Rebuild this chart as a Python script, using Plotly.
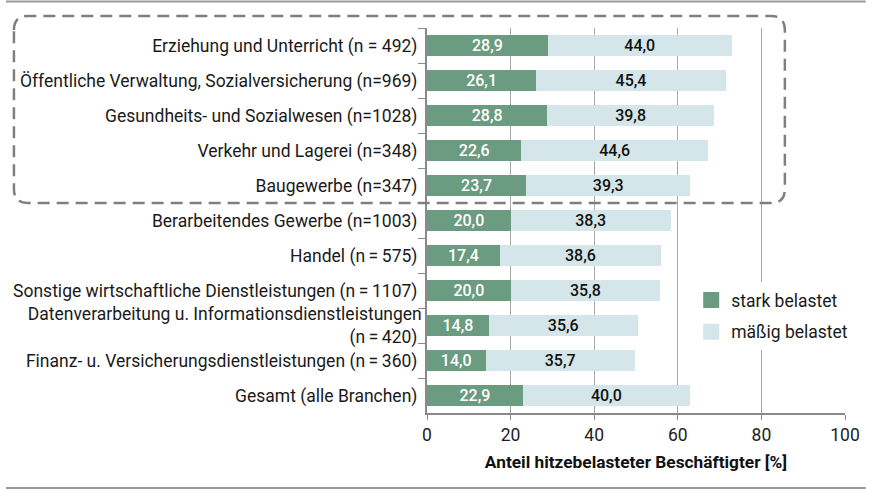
import plotly.graph_objects as go

categories = [
    "Erziehung und Unterricht (n = 492)",
    "Öffentliche Verwaltung, Sozialversicherung (n=969)",
    "Gesundheits- und Sozialwesen (n=1028)",
    "Verkehr und Lagerei (n=348)",
    "Baugewerbe (n=347)",
    "Berarbeitendes Gewerbe (n=1003)",
    "Handel (n\u2009=\u2009575)",
    "Sonstige wirtschaftliche Dienstleistungen (n\u2009=\u20091107)",
    "Datenverarbeitung u. Informationsdienstleistungen<br>(n\u2009=\u2009420)",
    "Finanz- u. Versicherungsdienstleistungen (n\u2009=\u2009360)",
    "Gesamt (alle Branchen)",
]
stark = [28.9, 26.1, 28.8, 22.6, 23.7, 20.0, 17.4, 20.0, 14.8, 14.0, 22.9]
maessig = [44.0, 45.4, 39.8, 44.6, 39.3, 38.3, 38.6, 35.8, 35.6, 35.7, 40.0]
x_ticks = [0, 20, 40, 60, 80, 100]
series_names = ["stark belastet", "mäßig belastet"]

FONT = "Roboto, sans-serif"
DARK = "#6b9b80"
LIGHT = "#d4e6e9"

def fmt(v):
    return f"{v:.1f}".replace(".", ",")

fig = go.Figure()
for vals, name, col, tcol in [(stark, series_names[0], DARK, "white"),
                              (maessig, series_names[1], LIGHT, "#111111")]:
    fig.add_trace(go.Bar(
        y=categories, x=vals, orientation="h", name=name, showlegend=False,
        marker=dict(color=col, line=dict(width=0)),
        text=[fmt(v) for v in vals], textposition="inside", insidetextanchor="middle",
        textangle=0, constraintext="none",
        textfont=dict(color=tcol, size=16, family=FONT, weight=500),
        hoverinfo="skip",
    ))
# legend entries with larger square symbols
for i, (name, col) in enumerate([(series_names[0], DARK), (series_names[1], LIGHT)]):
    fig.add_trace(go.Scatter(
        x=[None], y=[None], mode="markers", name=name, legendgroup=f"g{i}",
        marker=dict(symbol="square", size=17, color=col), hoverinfo="skip",
    ))

# pixel -> paper helpers (plot area: x 427..851, y 28..413)
L, R, T, B = 427, 851, 28, 413
def px(x):
    return (x - L) / (R - L)
def py(y):
    return (B - y) / (B - T)

bl, br, bt, bb, r = 8, 790, 16, 203, 14
path = (
    f"M {px(bl)},{py(bt + r)} Q {px(bl)},{py(bt)} {px(bl + r)},{py(bt)} "
    f"L {px(br - r)},{py(bt)} Q {px(br)},{py(bt)} {px(br)},{py(bt + r)} "
    f"L {px(br)},{py(bb - r)} Q {px(br)},{py(bb)} {px(br - r)},{py(bb)} "
    f"L {px(bl + r)},{py(bb)} Q {px(bl)},{py(bb)} {px(bl)},{py(bb - r)} Z"
)
shapes = [
    dict(type="path", xref="paper", yref="paper", path=path,
         line=dict(color="#7f7f7f", width=2.5, dash="12px,7px"), layer="above"),
    dict(type="line", xref="paper", yref="paper", x0=px(0), x1=px(872), y0=py(1.5), y1=py(1.5),
         line=dict(color="#9a9a9a", width=2)),
    dict(type="line", xref="paper", yref="paper", x0=px(0), x1=px(872), y0=py(488), y1=py(488),
         line=dict(color="#9a9a9a", width=2)),
]

fig.update_layout(
    barmode="stack", bargap=0.38,
    width=872, height=490,
    margin=dict(l=L, r=872 - R, t=T, b=490 - B, pad=0),
    paper_bgcolor="white", plot_bgcolor="white",
    font=dict(family=FONT, size=17.5, color="#1a1a1a"),
    showlegend=True,
    legend=dict(x=px(695), y=py(282), xanchor="left", yanchor="top",
                bgcolor="white", font=dict(size=17.5, family=FONT, color="#1a1a1a"),
                traceorder="grouped", tracegroupgap=6, itemsizing="trace"),
    shapes=shapes,
    xaxis=dict(
        range=[0, 100], tickvals=x_ticks, ticktext=[str(v) for v in x_ticks],
        showgrid=True, gridcolor="#a8a8a8", gridwidth=1,
        showline=True, linecolor="#8a8a8a", linewidth=1.5,
        ticks="outside", ticklen=5, tickcolor="#8a8a8a",
        tickfont=dict(size=17.5, family=FONT, color="#222"),
        zeroline=False,
        title=dict(text="<b>Anteil hitzebelasteter Beschäftigter [%]</b>",
                   font=dict(size=17.3, family=FONT, color="#111"), standoff=12),
    ),
    yaxis=dict(
        autorange="reversed", type="category",
        showline=True, linecolor="#8a8a8a", linewidth=1.5,
        ticks="outside", ticklen=7, tickcolor="#8a8a8a", tickson="boundaries",
        tickfont=dict(size=17.5, family=FONT, color="#1a1a1a"),
        showgrid=False, ticksuffix=" ",
    ),
)

fig.write_html("out.html")
